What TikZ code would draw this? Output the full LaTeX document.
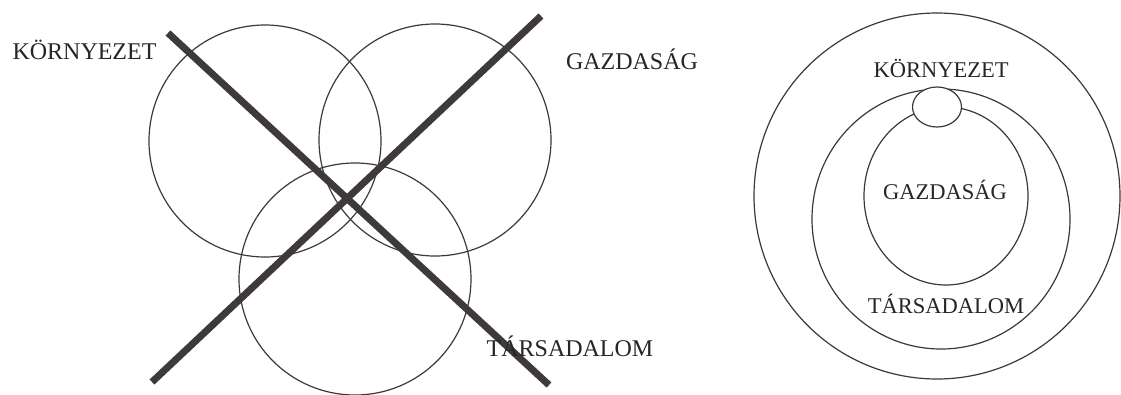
\documentclass[tikz,border=0pt]{standalone}
\usepackage{fontspec}
\setmainfont{Liberation Serif}
\definecolor{inkline}{HTML}{3A3A3A}
\definecolor{crossink}{HTML}{3E3A3A}
\definecolor{textink}{HTML}{262626}
\begin{document}
\begin{tikzpicture}[x=1pt,y=-1pt,
  ring/.style={draw=inkline,line width=1.2pt},
  cross/.style={draw=crossink,line width=7pt,line cap=butt},
  lbl/.style={text=textink,inner sep=0pt,font=\fontsize{24}{24}\selectfont},
  lblr/.style={text=textink,inner sep=0pt,font=\fontsize{22.5}{22.5}\selectfont}]
\useasboundingbox[fill=white] (0,0) rectangle (1121,394);
% left diagram: three overlapping circles
\draw[ring] (265,141) circle [x radius=116pt, y radius=116pt];
\draw[ring] (435,140) circle [x radius=116pt, y radius=116pt];
\draw[ring] (355,279) circle [x radius=116pt, y radius=116pt];
% cross
\coordinate (c1a) at (168,33);
\coordinate (c1b) at (549,385);
\coordinate (c2a) at (152,382);
\coordinate (c2b) at (541,16);
\draw[cross] (c1a) -- (c1b);
\draw[cross] (c2a) -- (c2b);
\node[lbl] (kl) at (84.5,50) {KÖRNYEZET};
\node[lbl] (gl) at (632,59) {GAZDASÁG};
\node[lbl] (tl) at (570,346) {TÁRSADALOM};
% right diagram: nested circles
\draw[ring] (937,196) circle [x radius=183pt, y radius=183pt];
\draw[ring] (941,219) circle [x radius=129pt, y radius=130pt];
\draw[ring] (946,196) circle [x radius=82pt, y radius=89pt];
\draw[ring,fill=white] (937,107) circle [x radius=24.5pt, y radius=20pt];
\node[lblr] (kr) at (941,68) {KÖRNYEZET};
\node[lblr] (gr) at (945,190) {GAZDASÁG};
\node[lblr] (tr) at (946,304) {TÁRSADALOM};
\end{tikzpicture}
\end{document}
